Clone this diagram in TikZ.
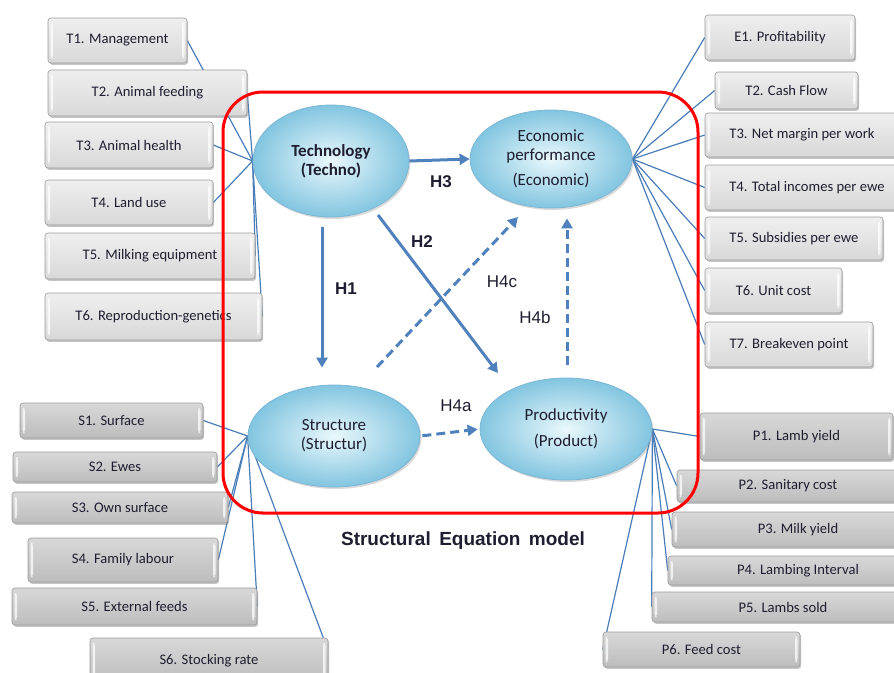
\documentclass[tikz,border=0pt]{standalone}
\usepackage{fontspec}
\setmainfont{Carlito}
\newfontfamily\arialf{Liberation Sans}
\usetikzlibrary{shapes.geometric,arrows.meta,shadows}
\definecolor{conn}{HTML}{4A7DB8}
\definecolor{arrc}{HTML}{4F81BD}
\definecolor{ellin}{HTML}{EAF8FC}
\definecolor{ellout}{HTML}{82C5E0}
\definecolor{elldraw}{HTML}{7DB7D6}
\definecolor{ltA}{HTML}{EFEFEF}
\definecolor{ltB}{HTML}{D8D8D8}
\definecolor{dkA}{HTML}{D8D8D8}
\definecolor{dkB}{HTML}{BDBDBD}
\definecolor{boxbd}{HTML}{9A9A9A}
\definecolor{txt}{HTML}{1E1E30}
\pgfdeclarelayer{bg}
\pgfsetlayers{bg,main}
\begin{document}
\begin{tikzpicture}[x=1pt,y=-1pt,
  box/.style={draw=boxbd, line width=0.6pt, rounded corners=3pt, inner sep=0pt,
    font=\fontsize{14.6}{16}\selectfont, text=txt,
    drop shadow={shadow xshift=1.2pt, shadow yshift=-1.8pt, opacity=0.45},
    path picture={
      \fill[white,opacity=.75] ([xshift=2.5pt,yshift=-5pt]path picture bounding box.north west) rectangle ([xshift=5pt,yshift=5pt]path picture bounding box.south west);
      \fill[white,opacity=.75] ([xshift=-5pt,yshift=-5pt]path picture bounding box.north east) rectangle ([xshift=-2.5pt,yshift=5pt]path picture bounding box.south east);
    }},
  ltbox/.style={box, top color=ltA, bottom color=ltB},
  dkbox/.style={box, top color=dkA, bottom color=dkB},
  ell/.style={ellipse, draw=elldraw, line width=0.8pt, inner color=ellin, outer color=ellout,
    inner sep=0pt, align=center, text=txt, font=\fontsize{17}{19}\selectfont,
    drop shadow={shadow xshift=1.5pt, shadow yshift=-2pt, opacity=0.3}},
  link/.style={draw=conn, line width=1.2pt},
  arr/.style={draw=arrc, line width=3pt, -{Triangle[length=10pt,width=11pt]}},
  darr/.style={arr, dash pattern=on 9pt off 5pt},
  hb/.style={font=\arialf\bfseries\fontsize{17}{19}\selectfont, text=txt},
  hn/.style={font=\arialf\fontsize{17}{19}\selectfont, text=txt}
]
\useasboundingbox (0,0) rectangle (894,672);

% technology indicators
\node[ltbox, minimum width=139, minimum height=45] (t1) at (117.5,40.5) {T1. Management};
\node[ltbox, minimum width=199, minimum height=46] (t2) at (147.5,93) {T2. Animal feeding};
\node[ltbox, minimum width=168, minimum height=46] (t3) at (129,145) {T3. Animal health};
\node[ltbox, minimum width=168, minimum height=45] (t4) at (129,202.5) {T4. Land use};
\node[ltbox, minimum width=210, minimum height=46] (t5) at (150,256) {T5. Milking equipment};
\node[ltbox, minimum width=217, minimum height=47] (t6) at (153.5,316.5) {T6. Reproduction-genetics};

% economic indicators
\node[ltbox, minimum width=150, minimum height=45] (e1) at (780,37.5) {E1. Profitability};
\node[ltbox, minimum width=143, minimum height=37] (e2) at (786.5,90.5) {T2. Cash Flow};
\node[ltbox, minimum width=194, minimum height=44] (e3) at (802,135) {T3. Net margin per work};
\node[ltbox, minimum width=204, minimum height=45] (e4) at (807,187.5) {T4. Total incomes per ewe};
\node[ltbox, minimum width=178, minimum height=43] (e5) at (794,238.5) {T5. Subsidies per ewe};
\node[ltbox, minimum width=137, minimum height=45] (e6) at (773.5,290.5) {T6. Unit cost};
\node[ltbox, minimum width=168, minimum height=45] (e7) at (789,344.5) {T7. Breakeven point};

% structure indicators
\node[dkbox, minimum width=183, minimum height=35] (s1) at (111.5,420.5) {S1. Surface};
\node[dkbox, minimum width=204, minimum height=30] (s2) at (115,467) {S2. Ewes};
\node[dkbox, minimum width=216, minimum height=31] (s3) at (120,507.5) {S3. Own surface};
\node[dkbox, minimum width=190, minimum height=44] (s4) at (123,560) {S4. Family labour};
\node[dkbox, minimum width=245, minimum height=37] (s5) at (134.5,606.5) {S5. External feeds};
\node[dkbox, minimum width=238, minimum height=45] (s6) at (209,660.5) {S6. Stocking rate};

% productivity indicators
\node[dkbox, minimum width=193, minimum height=47] (p1) at (796.5,436.5) {P1. Lamb yield};
\node[dkbox, minimum width=222, minimum height=32] (p2) at (788,486) {P2. Sanitary cost};
\node[dkbox, minimum width=252, minimum height=35] (p3) at (798,529.5) {P3. Milk yield};
\node[dkbox, minimum width=260, minimum height=29] (p4) at (798,570.5) {P4. Lambing  Interval};
\node[dkbox, minimum width=262, minimum height=30] (p5) at (783,607) {P5. Lambs sold};
\node[dkbox, minimum width=197, minimum height=35] (p6) at (701.5,649.5) {P6. Feed cost};

% frame
\node[draw=red, line width=3pt, rounded corners=40pt, minimum width=475, minimum height=421, inner sep=0pt] (frame) at (460.5,302.5) {};

% latent variables
\node[ell, minimum width=156, minimum height=112, font=\bfseries\fontsize{17}{19}\selectfont] (tech) at (331,161) {Technology\\(Techno)};
\node[ell, minimum width=162, minimum height=98] (eco) at (551,159) {Economic\\performance\\[6pt](Economic)};
\node[ell, minimum width=172, minimum height=102] (str) at (334,436) {Structure\\(Structur)};
\node[ell, minimum width=172, minimum height=102] (prod) at (566,429) {Productivity\\[7pt](Product)};

% connectors to indicators
\begin{pgfonlayer}{bg}
\foreach \b in {t1,t2,t3,t4,t5,t6} \draw[link] (tech.west) -- (\b.east);
\foreach \b in {e1,e2,e3,e4,e5,e6,e7} \draw[link] (eco.east) -- (\b.west);
\foreach \b in {s1,s2,s3,s4,s5} \draw[link] (str.west) -- (\b.east);
\draw[link] (str.west) -- ([xshift=-5pt]s6.north east);
\foreach \b in {p1,p2,p3,p4,p5,p6} \draw[link] (prod.east) -- (\b.west);
\end{pgfonlayer}

% structural paths
\coordinate (h2s) at (378,215);
\coordinate (h2e) at (498,373);
\coordinate (h4cs) at (377,367);
\coordinate (h4ce) at (518,217);
\draw[arr] (tech.east) -- (eco.west);
\draw[arr, shorten <=10pt, shorten >=17pt] ([xshift=-9pt]tech.south) -- ([xshift=-12pt]str.north);
\draw[arr] (h2s) -- (h2e);
\draw[darr] (h4cs) -- (h4ce);
\draw[darr, shorten <=13pt, shorten >=10pt] ([xshift=1pt]prod.north) -- ([xshift=16pt]eco.south);
\draw[darr, shorten <=2pt, shorten >=2pt] (str.east) -- (prod.west);

\node[hb] (lh3) at (441,182) {H3};
\node[hb] (lh2) at (422,242) {H2};
\node[hb] (lh1) at (346,289) {H1};
\node[hn] (lh4c) at (502,282) {H4c};
\node[hn] (lh4b) at (535,317) {H4b};
\node[hn] (lh4a) at (456,406) {H4a};

\node[font=\arialf\bfseries\fontsize{19}{21}\selectfont, text=txt] (title) at (463,541) {Structural\, Equation\, model};
\end{tikzpicture}
\end{document}
